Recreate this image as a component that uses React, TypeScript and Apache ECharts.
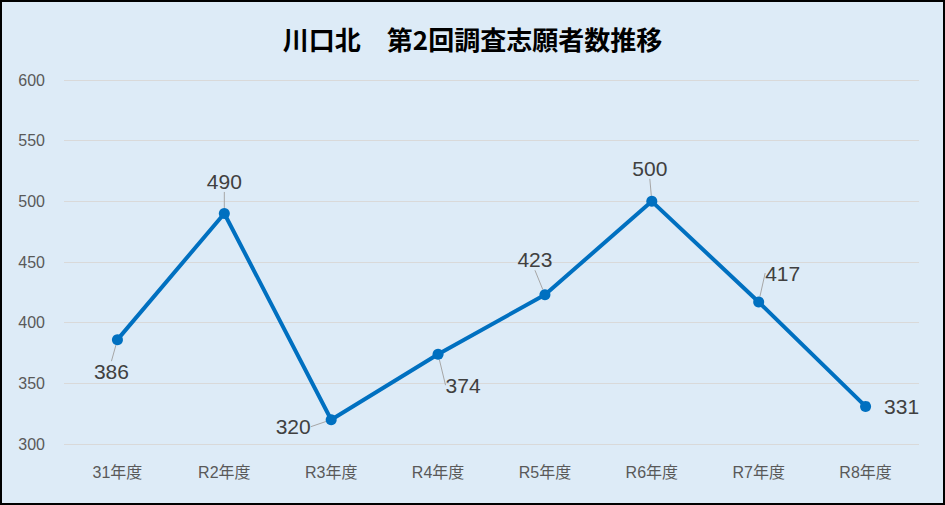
import React, { useEffect, useRef } from "react";
import * as echarts from "echarts";

const categories = ["31年度", "R2年度", "R3年度", "R4年度", "R5年度", "R6年度", "R7年度", "R8年度"];
const applicants = [386, 490, 320, 374, 423, 500, 417, 331];
const labelOffsets: [number, number][] = [
  [-6, 32], [0, -32], [-38, 7], [25, 31], [-10, -35], [-2, -33], [24, -29], [36, 0],
];
const showLeader = [true, true, true, true, true, true, true, false];

export default function App() {
  const ref = useRef<HTMLDivElement>(null);
  useEffect(() => {
    document.body.style.margin = "0";
    const chart = echarts.init(ref.current!, null, { renderer: "svg" });
    const cjk = "'Noto Sans CJK JP', 'Noto Sans', sans-serif";
    const num = "'Liberation Sans', Arial, 'Noto Sans CJK JP', sans-serif";
    chart.setOption({
      animation: false,
      backgroundColor: "#DDEBF7",
      textStyle: { fontFamily: num },
      title: {
        text: "川口北　第2回調査志願者数推移",
        left: "center",
        top: 20,
        textStyle: { fontSize: 26, fontWeight: "bold", color: "#000", fontFamily: cjk },
      },
      graphic: [
        {
          type: "rect",
          shape: { x: 1, y: 1, width: 943, height: 503 },
          style: { fill: "none", stroke: "#000", lineWidth: 2 },
          silent: true,
        },
      ],
      grid: { left: 64, top: 80, width: 855, height: 364 },
      xAxis: {
        type: "category",
        data: categories,
        boundaryGap: true,
        axisLine: { show: false },
        axisTick: { show: false },
        axisLabel: { color: "#595959", fontSize: 16, margin: 20, fontFamily: num },
      },
      yAxis: {
        type: "value",
        min: 300,
        max: 600,
        interval: 50,
        axisLine: { show: false },
        axisTick: { show: false },
        axisLabel: { color: "#595959", fontSize: 16, margin: 19, fontFamily: num },
        splitLine: { lineStyle: { color: "#D9D9D9", width: 1 } },
      },
      series: [
        {
          type: "line",
          data: applicants.map((v, i) => ({
            value: v,
            labelLine: { show: showLeader[i] },
          })),
          symbol: "circle",
          symbolSize: 11,
          lineStyle: { color: "#0070C0", width: 4 },
          itemStyle: { color: "#0070C0" },
          label: {
            show: true,
            position: "inside",
            fontSize: 21,
            color: "#404040",
            fontFamily: num,
          },
          labelLine: { show: true, lineStyle: { color: "#A6A6A6", width: 1 } },
          labelLayout: (p: any) => ({
            dx: labelOffsets[p.dataIndex][0],
            dy: labelOffsets[p.dataIndex][1],
          }),
        },
      ],
    });
    return () => chart.dispose();
  }, []);
  return <div ref={ref} style={{ width: 945, height: 505 }} />;
}
